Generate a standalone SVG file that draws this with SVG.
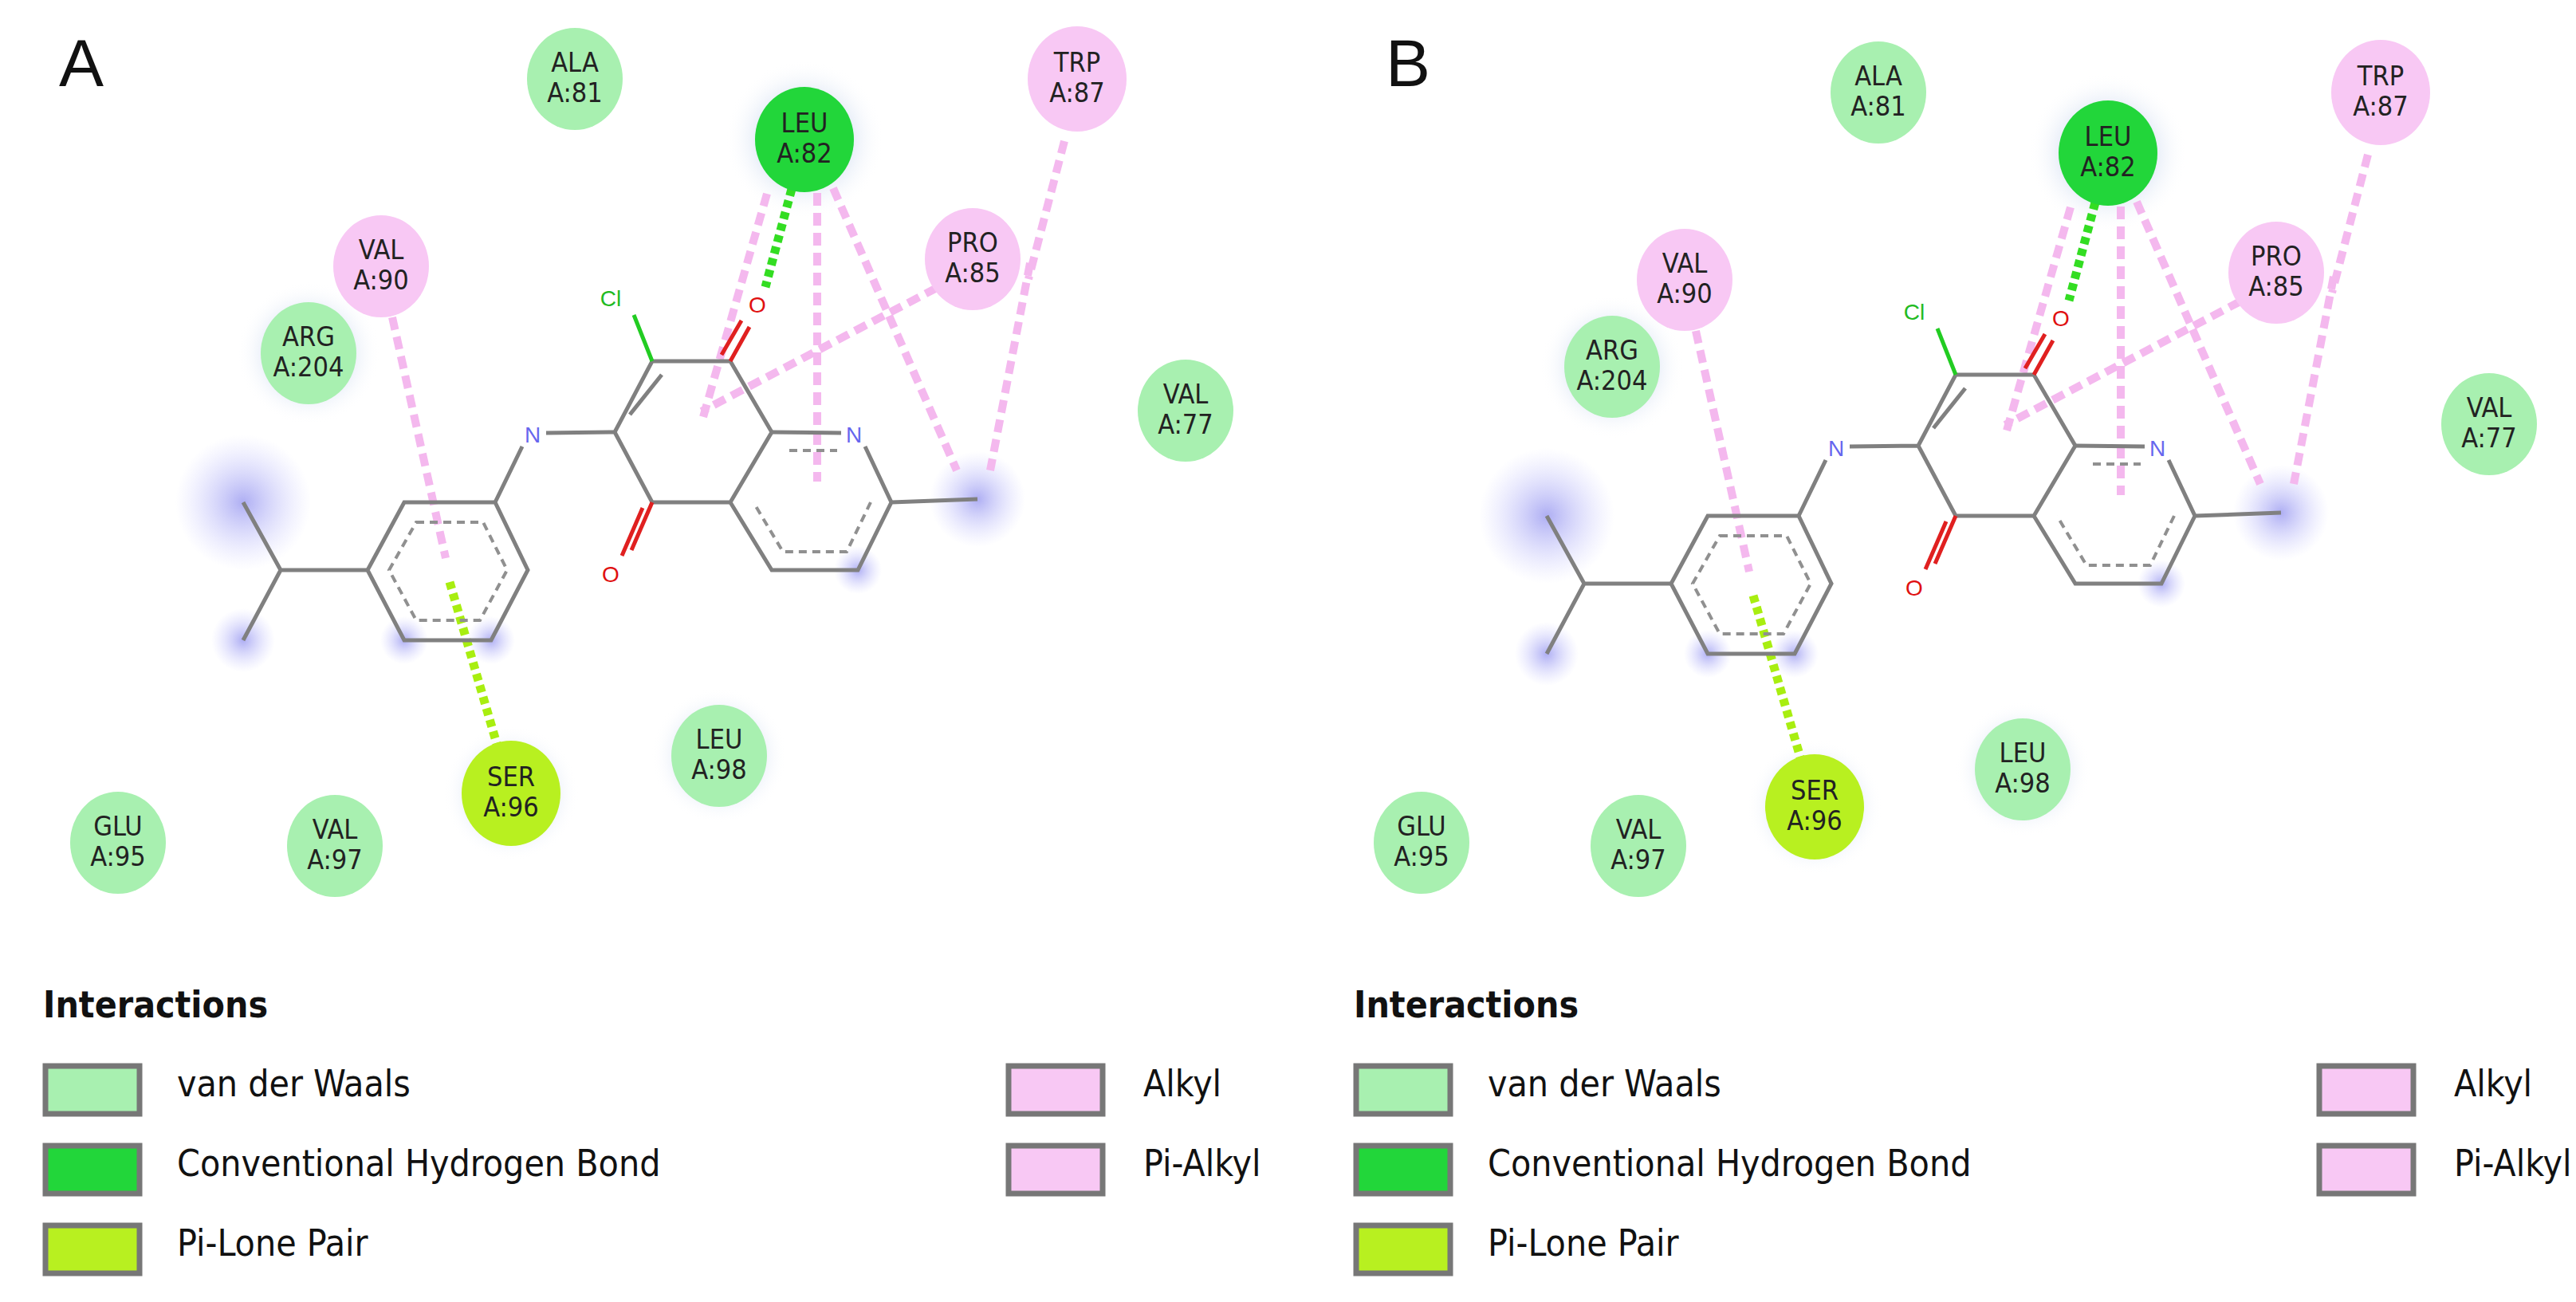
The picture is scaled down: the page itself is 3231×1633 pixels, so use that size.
<svg xmlns="http://www.w3.org/2000/svg" width="3231" height="1633" viewBox="0 0 3231 1633">
<defs>
<radialGradient id="glow"><stop offset="0" stop-color="#9a9af0" stop-opacity="0.8"/><stop offset="1" stop-color="#c8c8ff" stop-opacity="0"/></radialGradient>
<radialGradient id="halo"><stop offset="0.6" stop-color="#e8eef8"/><stop offset="1" stop-color="#ffffff" stop-opacity="0"/></radialGradient>
</defs>
<style>
.vdw{fill:#a8f0b0}.hb{fill:#22d63a}.lp{fill:#b8f020}.al{fill:#f8c8f4}
.lbl{font-family:"DejaVu Sans Condensed","DejaVu Sans",sans-serif;font-size:34px;fill:#222;text-anchor:middle}
.bond{stroke:#808080;stroke-width:5;fill:none}
.arom{stroke:#909090;stroke-width:4;stroke-dasharray:10 7;fill:none}
.pk{stroke:#f4b8ee;stroke-width:10;stroke-dasharray:16 9;fill:none}
.gr{stroke:#33dd22;stroke-width:11;stroke-dasharray:9 6;fill:none}
.yg{stroke:#a8ee10;stroke-width:11;stroke-dasharray:9 6;fill:none}
.atom{font-family:"Liberation Sans",sans-serif;font-size:28px;text-anchor:middle}
.leg{font-family:"DejaVu Sans Condensed","DejaVu Sans",sans-serif;font-size:46px;fill:#111}
.sw{stroke:#777;stroke-width:7}
.pl{font-family:"Liberation Sans",sans-serif;font-size:84px;fill:#111}
</style>
<text class="pl" x="74" y="108">A</text>
<text class="pl" x="1738" y="108">B</text>
<g id="panelA">
<g id="glowsA">
<circle cx="305" cy="630" r="85" fill="url(#glow)"/><circle cx="305" cy="803" r="40" fill="url(#glow)"/>
<circle cx="507" cy="803" r="30" fill="url(#glow)"/><circle cx="616" cy="803" r="30" fill="url(#glow)"/>
<circle cx="1076" cy="715" r="30" fill="url(#glow)"/><circle cx="1226" cy="626" r="60" fill="url(#glow)"/>
<circle cx="1009" cy="175" r="100" fill="url(#halo)"/><circle cx="387" cy="443" r="90" fill="url(#halo)"/>
<circle cx="902" cy="948" r="85" fill="url(#halo)"/><circle cx="641" cy="995" r="85" fill="url(#halo)"/>
</g>
<g id="connectorsA">
<line class="pk" x1="492" y1="398" x2="559" y2="700"/>
<line class="pk" x1="962" y1="243" x2="880" y2="530"/>
<line class="pk" x1="1025" y1="242" x2="1025" y2="604"/>
<line class="pk" x1="1045" y1="236" x2="1200" y2="590"/>
<line class="pk" x1="1175" y1="361" x2="880" y2="516"/>
<line class="pk" x1="1292" y1="330" x2="1242" y2="590"/>
<line class="pk" x1="1335" y1="177" x2="1290" y2="350"/>
<line class="gr" x1="993" y1="237" x2="960" y2="360"/>
<line class="yg" x1="564" y1="730" x2="626" y2="943"/>
</g>
<g id="ligandA">
<polygon class="bond" points="507,630 621,630 662,715 616,803 507,803 461,715"/>
<polygon class="arom" points="522,655 606,655 636,715 602,778 522,778 488,715"/>
<path class="bond" d="M461,715 L352,715 M352,715 L305,630 M352,715 L305,803"/>
<path class="bond" d="M621,630 L655,560 M685,543 L771,542 M771,542 L818,453 L916,453 L968,542 L916,630 L818,630 Z"/>
<path class="bond" d="M790,520 L830,470"/>
<path class="bond" d="M968,542 L1055,543 M1085,560 L1118,630 L1076,715 L968,715 L916,630 M1118,630 L1226,626"/>
<path class="arom" d="M990,565 L1050,565 M1092,630 L1062,692 L982,692 L945,630"/>
<path d="M818,453 L795,395" stroke="#22cc22" stroke-width="5"/>
<path d="M916,453 L940,410 M905,445 L930,402" stroke="#e02020" stroke-width="5"/>
<path d="M818,630 L792,690 M806,637 L780,697" stroke="#e02020" stroke-width="5"/>
<text class="atom" x="766" y="384" fill="#22bb22">Cl</text>
<text class="atom" x="950" y="392" fill="#e01010">O</text>
<text class="atom" x="766" y="730" fill="#e01010">O</text>
<text class="atom" x="668" y="555" fill="#6666ee">N</text>
<text class="atom" x="1071" y="555" fill="#6666ee">N</text>
</g>
<g id="A-ALA81"><ellipse class="vdw" cx="721" cy="99" rx="60" ry="64"/><text class="lbl" x="721" y="90">ALA</text><text class="lbl" x="721" y="128">A:81</text></g>
<g id="A-LEU82"><ellipse class="hb" cx="1009" cy="175" rx="62" ry="66"/><text class="lbl" x="1009" y="166">LEU</text><text class="lbl" x="1009" y="204">A:82</text></g>
<g id="A-TRP87"><ellipse class="al" cx="1351" cy="99" rx="62" ry="66"/><text class="lbl" x="1351" y="90">TRP</text><text class="lbl" x="1351" y="128">A:87</text></g>
<g id="A-PRO85"><ellipse class="al" cx="1220" cy="325" rx="60" ry="64"/><text class="lbl" x="1220" y="316">PRO</text><text class="lbl" x="1220" y="354">A:85</text></g>
<g id="A-VAL90"><ellipse class="al" cx="478" cy="334" rx="60" ry="64"/><text class="lbl" x="478" y="325">VAL</text><text class="lbl" x="478" y="363">A:90</text></g>
<g id="A-ARG204"><ellipse class="vdw" cx="387" cy="443" rx="60" ry="64"/><text class="lbl" x="387" y="434">ARG</text><text class="lbl" x="387" y="472">A:204</text></g>
<g id="A-VAL77"><ellipse class="vdw" cx="1487" cy="515" rx="60" ry="64"/><text class="lbl" x="1487" y="506">VAL</text><text class="lbl" x="1487" y="544">A:77</text></g>
<g id="A-LEU98"><ellipse class="vdw" cx="902" cy="948" rx="60" ry="64"/><text class="lbl" x="902" y="939">LEU</text><text class="lbl" x="902" y="977">A:98</text></g>
<g id="A-SER96"><ellipse class="lp" cx="641" cy="995" rx="62" ry="66"/><text class="lbl" x="641" y="986">SER</text><text class="lbl" x="641" y="1024">A:96</text></g>
<g id="A-GLU95"><ellipse class="vdw" cx="148" cy="1057" rx="60" ry="64"/><text class="lbl" x="148" y="1048">GLU</text><text class="lbl" x="148" y="1086">A:95</text></g>
<g id="A-VAL97"><ellipse class="vdw" cx="420" cy="1061" rx="60" ry="64"/><text class="lbl" x="420" y="1052">VAL</text><text class="lbl" x="420" y="1090">A:97</text></g>
</g>
<g id="panelB" transform="translate(1635,17)">
<g id="glowsB">
<circle cx="305" cy="630" r="85" fill="url(#glow)"/><circle cx="305" cy="803" r="40" fill="url(#glow)"/>
<circle cx="507" cy="803" r="30" fill="url(#glow)"/><circle cx="616" cy="803" r="30" fill="url(#glow)"/>
<circle cx="1076" cy="715" r="30" fill="url(#glow)"/><circle cx="1226" cy="626" r="60" fill="url(#glow)"/>
<circle cx="1009" cy="175" r="100" fill="url(#halo)"/><circle cx="387" cy="443" r="90" fill="url(#halo)"/>
<circle cx="902" cy="948" r="85" fill="url(#halo)"/><circle cx="641" cy="995" r="85" fill="url(#halo)"/>
</g>
<g id="connectorsB">
<line class="pk" x1="492" y1="398" x2="559" y2="700"/>
<line class="pk" x1="962" y1="243" x2="880" y2="530"/>
<line class="pk" x1="1025" y1="242" x2="1025" y2="604"/>
<line class="pk" x1="1045" y1="236" x2="1200" y2="590"/>
<line class="pk" x1="1175" y1="361" x2="880" y2="516"/>
<line class="pk" x1="1292" y1="330" x2="1242" y2="590"/>
<line class="pk" x1="1335" y1="177" x2="1290" y2="350"/>
<line class="gr" x1="993" y1="237" x2="960" y2="360"/>
<line class="yg" x1="564" y1="730" x2="626" y2="943"/>
</g>
<g id="ligandB">
<polygon class="bond" points="507,630 621,630 662,715 616,803 507,803 461,715"/>
<polygon class="arom" points="522,655 606,655 636,715 602,778 522,778 488,715"/>
<path class="bond" d="M461,715 L352,715 M352,715 L305,630 M352,715 L305,803"/>
<path class="bond" d="M621,630 L655,560 M685,543 L771,542 M771,542 L818,453 L916,453 L968,542 L916,630 L818,630 Z"/>
<path class="bond" d="M790,520 L830,470"/>
<path class="bond" d="M968,542 L1055,543 M1085,560 L1118,630 L1076,715 L968,715 L916,630 M1118,630 L1226,626"/>
<path class="arom" d="M990,565 L1050,565 M1092,630 L1062,692 L982,692 L945,630"/>
<path d="M818,453 L795,395" stroke="#22cc22" stroke-width="5"/>
<path d="M916,453 L940,410 M905,445 L930,402" stroke="#e02020" stroke-width="5"/>
<path d="M818,630 L792,690 M806,637 L780,697" stroke="#e02020" stroke-width="5"/>
<text class="atom" x="766" y="384" fill="#22bb22">Cl</text>
<text class="atom" x="950" y="392" fill="#e01010">O</text>
<text class="atom" x="766" y="730" fill="#e01010">O</text>
<text class="atom" x="668" y="555" fill="#6666ee">N</text>
<text class="atom" x="1071" y="555" fill="#6666ee">N</text>
</g>
<g id="B-ALA81"><ellipse class="vdw" cx="721" cy="99" rx="60" ry="64"/><text class="lbl" x="721" y="90">ALA</text><text class="lbl" x="721" y="128">A:81</text></g>
<g id="B-LEU82"><ellipse class="hb" cx="1009" cy="175" rx="62" ry="66"/><text class="lbl" x="1009" y="166">LEU</text><text class="lbl" x="1009" y="204">A:82</text></g>
<g id="B-TRP87"><ellipse class="al" cx="1351" cy="99" rx="62" ry="66"/><text class="lbl" x="1351" y="90">TRP</text><text class="lbl" x="1351" y="128">A:87</text></g>
<g id="B-PRO85"><ellipse class="al" cx="1220" cy="325" rx="60" ry="64"/><text class="lbl" x="1220" y="316">PRO</text><text class="lbl" x="1220" y="354">A:85</text></g>
<g id="B-VAL90"><ellipse class="al" cx="478" cy="334" rx="60" ry="64"/><text class="lbl" x="478" y="325">VAL</text><text class="lbl" x="478" y="363">A:90</text></g>
<g id="B-ARG204"><ellipse class="vdw" cx="387" cy="443" rx="60" ry="64"/><text class="lbl" x="387" y="434">ARG</text><text class="lbl" x="387" y="472">A:204</text></g>
<g id="B-VAL77"><ellipse class="vdw" cx="1487" cy="515" rx="60" ry="64"/><text class="lbl" x="1487" y="506">VAL</text><text class="lbl" x="1487" y="544">A:77</text></g>
<g id="B-LEU98"><ellipse class="vdw" cx="902" cy="948" rx="60" ry="64"/><text class="lbl" x="902" y="939">LEU</text><text class="lbl" x="902" y="977">A:98</text></g>
<g id="B-SER96"><ellipse class="lp" cx="641" cy="995" rx="62" ry="66"/><text class="lbl" x="641" y="986">SER</text><text class="lbl" x="641" y="1024">A:96</text></g>
<g id="B-GLU95"><ellipse class="vdw" cx="148" cy="1040" rx="60" ry="64"/><text class="lbl" x="148" y="1031">GLU</text><text class="lbl" x="148" y="1069">A:95</text></g>
<g id="B-VAL97"><ellipse class="vdw" cx="420" cy="1044" rx="60" ry="64"/><text class="lbl" x="420" y="1035">VAL</text><text class="lbl" x="420" y="1073">A:97</text></g>
</g>
<g id="legendA">
<text class="leg" x="54" y="1276" font-weight="bold">Interactions</text>
<rect class="sw vdw" x="57" y="1337" width="118" height="60"/><text class="leg" x="222" y="1375">van der Waals</text>
<rect class="sw hb" x="57" y="1437" width="118" height="60"/><text class="leg" x="222" y="1475">Conventional Hydrogen Bond</text>
<rect class="sw lp" x="57" y="1537" width="118" height="60"/><text class="leg" x="222" y="1575">Pi-Lone Pair</text>
<rect class="sw al" x="1265" y="1337" width="118" height="60"/><text class="leg" x="1434" y="1375">Alkyl</text>
<rect class="sw al" x="1265" y="1437" width="118" height="60"/><text class="leg" x="1434" y="1475">Pi-Alkyl</text>
</g>
<g id="legendB" transform="translate(1644,0)">
<text class="leg" x="54" y="1276" font-weight="bold">Interactions</text>
<rect class="sw vdw" x="57" y="1337" width="118" height="60"/><text class="leg" x="222" y="1375">van der Waals</text>
<rect class="sw hb" x="57" y="1437" width="118" height="60"/><text class="leg" x="222" y="1475">Conventional Hydrogen Bond</text>
<rect class="sw lp" x="57" y="1537" width="118" height="60"/><text class="leg" x="222" y="1575">Pi-Lone Pair</text>
<rect class="sw al" x="1265" y="1337" width="118" height="60"/><text class="leg" x="1434" y="1375">Alkyl</text>
<rect class="sw al" x="1265" y="1437" width="118" height="60"/><text class="leg" x="1434" y="1475">Pi-Alkyl</text>
</g>
</svg>
